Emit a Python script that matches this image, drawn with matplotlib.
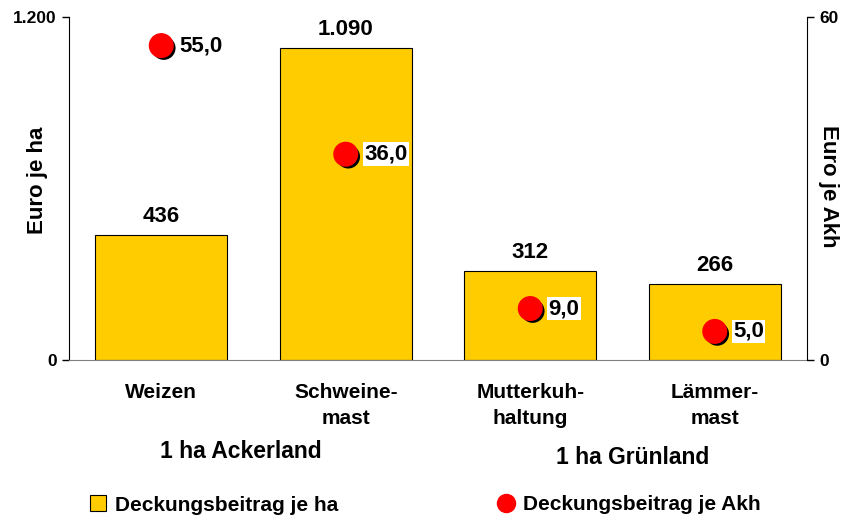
import matplotlib.pyplot as plt
import matplotlib.patheffects as pe
from matplotlib.lines import Line2D
from matplotlib.patches import Patch
import numpy as np

plt.rcParams['font.family'] = ['Liberation Sans', 'DejaVu Sans']
plt.rcParams['font.weight'] = 'bold'

categories = ["Weizen", "Schweine-\nmast", "Mutterkuh-\nhaltung", "Lämmer-\nmast"]
db_ha = [436, 1090, 312, 266]
db_akh = [55.0, 36.0, 9.0, 5.0]
bar_labels = ["436", "1.090", "312", "266"]
akh_labels = ["55,0", "36,0", "9,0", "5,0"]

W, H = 843, 521
fig = plt.figure(figsize=(8.43, 5.21), dpi=100)
ax = fig.add_axes([69 / W, 1 - 360 / H, 738 / W, 343 / H])
x = np.arange(len(categories))

ax.bar(x, db_ha, width=0.715, color="#FFCC00", edgecolor="black", linewidth=0.8, zorder=2)
ax.set_xlim(-0.5, 3.5)
ax.set_ylim(0, 1200)
ax.set_yticks([0, 1200])
ax.set_yticklabels(["0", "1.200"], fontsize=12.5, fontweight="bold")
ax.set_xticks([])
for s in ["top", "right"]:
    ax.spines[s].set_visible(False)
ax.spines["bottom"].set_color("#808080")
ax.tick_params(axis="y", direction="out", length=5, width=1, pad=4)

for xi, v, lab in zip(x, db_ha, bar_labels):
    ax.text(xi, v + 28, lab, ha="center", va="bottom", fontsize=16, fontweight="bold")

for xi, lab in zip(x, categories):
    ax.text(xi, -82, lab, ha="center", va="top", fontsize=15, fontweight="bold",
            linespacing=1.45)

fig.text(241 / W, 1 - 451 / H, "1 ha Ackerland", ha="center", va="center",
         fontsize=16.5, fontweight="bold")
fig.text(633 / W, 1 - 457 / H, "1 ha Grünland", ha="center", va="center",
         fontsize=16.5, fontweight="bold")
fig.text(37 / W, 1 - 180 / H, "Euro je ha", ha="center", va="center", rotation=90,
         fontsize=16, fontweight="bold")
fig.text(828 / W, 1 - 186 / H, "Euro je Akh", ha="center", va="center", rotation=270,
         fontsize=16, fontweight="bold")

ax2 = ax.twinx()
ax2.set_ylim(0, 60)
ax2.set_yticks([0, 60])
ax2.set_yticklabels(["0", "60"], fontsize=12.5, fontweight="bold")
for s in ["top", "left", "bottom"]:
    ax2.spines[s].set_visible(False)
ax2.tick_params(axis="y", direction="out", length=5, width=1, pad=4)

ax2.plot(x, db_akh, linestyle="none", marker="o", markersize=17, color="red",
         markeredgecolor="red", zorder=3,
         path_effects=[pe.SimplePatchShadow(offset=(1.8, -1.8), shadow_rgbFace="black", alpha=1),
                       pe.Normal()])
for xi, v, lab in zip(x, db_akh, akh_labels):
    ax2.text(xi + 0.1, v, lab, ha="left", va="center", fontsize=16, fontweight="bold",
             bbox=dict(facecolor="white", edgecolor="none", pad=1), zorder=4)

leg_prop = {"size": 15, "weight": "bold"}
leg1 = fig.legend([Patch(facecolor="#FFCC00", edgecolor="black", linewidth=0.8)],
                  ["Deckungsbeitrag je ha"], loc="center left",
                  bbox_to_anchor=(71 / W, 1 - 505 / H), frameon=False, prop=leg_prop,
                  handlelength=0.8, handleheight=0.8, handletextpad=0.4)
leg2 = fig.legend([Line2D([], [], linestyle="none", marker="o", markersize=13, color="red")],
                  ["Deckungsbeitrag je Akh"], loc="center left",
                  bbox_to_anchor=(477 / W, 1 - 505 / H), frameon=False, prop=leg_prop,
                  handlelength=1.0, handletextpad=0.3)

fig.savefig("out.png", dpi=100)
